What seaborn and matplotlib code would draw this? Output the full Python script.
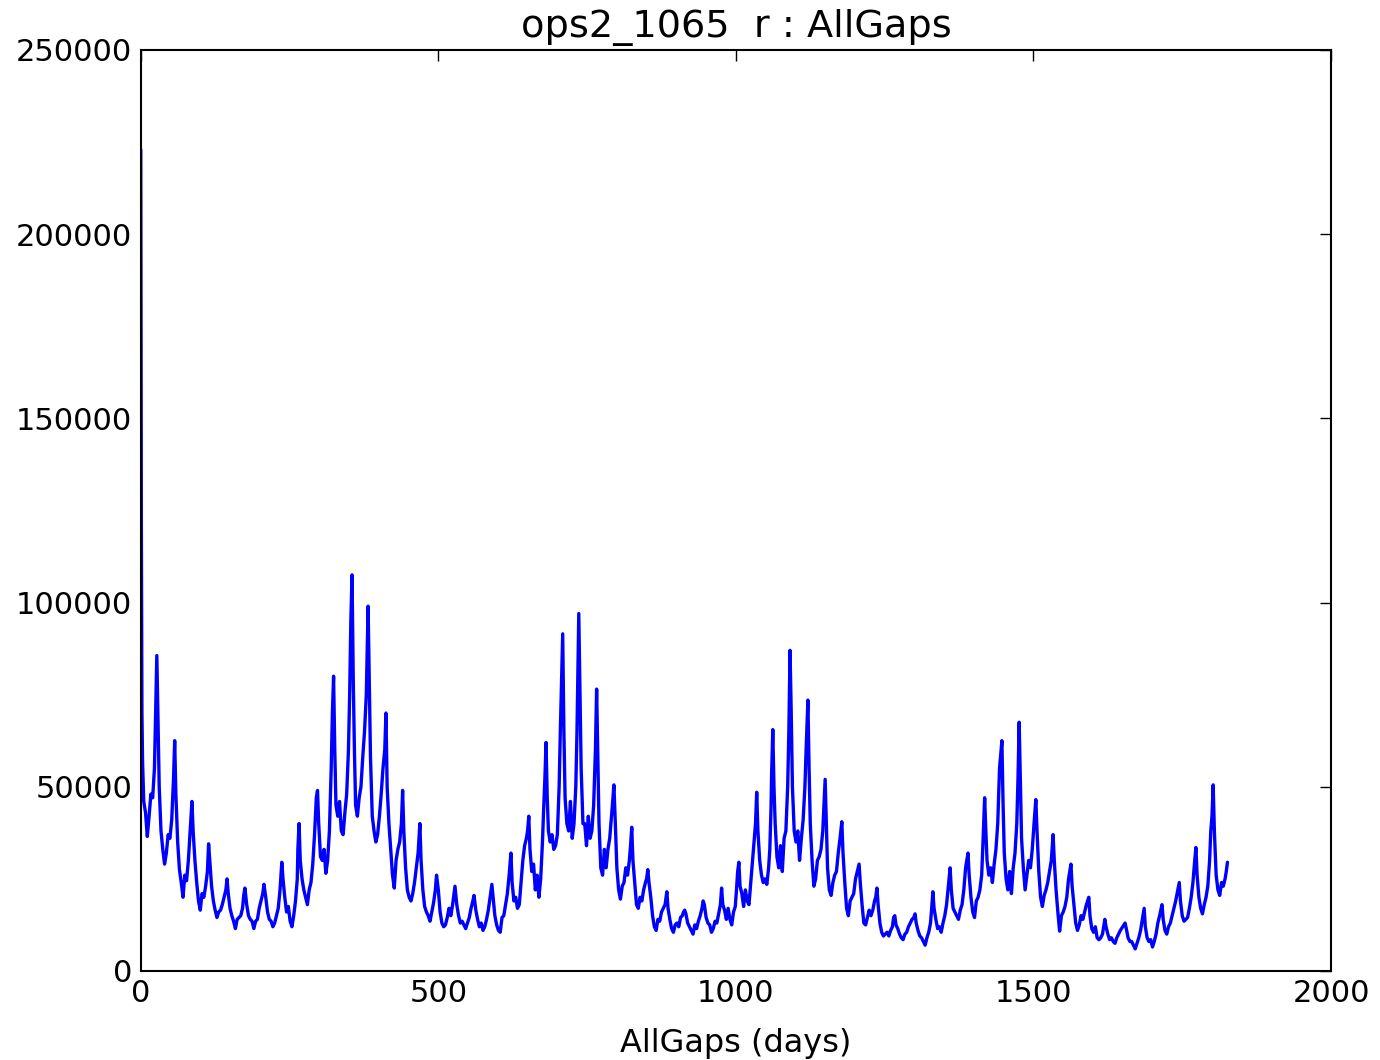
import numpy as np
import pandas as pd
import matplotlib
matplotlib.use("Agg")
import matplotlib.pyplot as plt
import seaborn as sns

days = [0,1,2,3,5,8,11,14,17,20,23,25,27,29,31,34,37,40,43,46,49,52,55,57,59,62,65,68,71,74,77,80,83,86,88,91,94,97,100,103,106,109,112,114,116,119,122,125,128,131,134,137,140,143,145,147,150,153,156,159,162,165,168,171,173,175,178,181,184,187,190,193,196,199,202,205,207,210,213,216,219,222,225,228,231,234,237,239,242,245,248,251,254,257,260,263,264,266,268,271,274,277,280,283,286,289,292,295,297,299,302,305,308,311,314,317,320,322,324,326,328,331,334,337,340,343,346,349,351,353,355,357,359,361,364,367,370,373,376,379,382,384,386,389,392,395,398,401,404,407,410,412,414,417,420,423,426,429,432,435,438,440,442,445,448,451,454,457,460,463,466,469,471,474,477,480,483,486,489,492,495,497,500,503,506,509,512,515,518,521,524,528,531,534,537,540,543,546,549,552,555,558,560,563,566,569,572,575,578,581,584,587,590,592,595,598,601,604,607,610,613,616,619,622,624,627,630,633,636,639,642,645,648,650,652,654,657,660,663,666,669,672,675,677,679,681,683,685,688,691,694,697,700,703,705,707,709,711,713,716,719,722,725,728,731,733,736,738,740,743,746,749,752,755,758,761,764,766,768,770,773,776,779,782,785,788,791,793,795,797,800,803,806,809,812,815,818,821,823,825,827,830,833,836,839,842,845,848,850,852,854,857,860,863,866,869,872,875,878,881,884,886,889,892,895,898,901,904,907,910,912,914,916,919,922,925,928,931,934,937,940,943,945,947,950,953,956,959,962,965,968,971,974,976,978,981,984,987,990,993,996,999,1001,1003,1005,1007,1010,1013,1016,1019,1022,1025,1028,1031,1033,1035,1037,1040,1043,1046,1049,1052,1055,1057,1059,1060,1062,1064,1066,1069,1072,1075,1078,1081,1084,1087,1089,1091,1093,1095,1098,1101,1104,1107,1110,1113,1116,1118,1121,1123,1125,1128,1131,1134,1137,1140,1143,1146,1148,1150,1152,1154,1157,1160,1163,1166,1169,1172,1175,1178,1180,1183,1186,1189,1192,1195,1198,1201,1204,1207,1209,1212,1215,1218,1221,1224,1227,1230,1233,1235,1237,1239,1242,1245,1248,1251,1254,1257,1260,1263,1265,1267,1269,1272,1275,1278,1281,1284,1287,1290,1293,1296,1299,1301,1303,1306,1309,1312,1315,1318,1321,1324,1327,1329,1331,1333,1336,1339,1342,1345,1348,1351,1354,1357,1360,1362,1365,1368,1371,1374,1377,1380,1383,1386,1388,1390,1392,1395,1398,1401,1404,1407,1410,1413,1415,1418,1420,1422,1425,1428,1431,1434,1437,1440,1443,1447,1449,1451,1454,1457,1460,1463,1466,1469,1472,1474,1476,1478,1480,1483,1486,1489,1492,1495,1498,1501,1504,1506,1509,1512,1515,1518,1521,1524,1527,1530,1533,1535,1538,1541,1544,1547,1550,1553,1556,1559,1563,1565,1568,1571,1574,1577,1580,1583,1586,1589,1593,1595,1598,1601,1604,1607,1610,1613,1616,1618,1620,1622,1625,1628,1631,1634,1637,1640,1643,1646,1650,1654,1656,1659,1662,1665,1668,1671,1674,1677,1680,1683,1686,1688,1691,1694,1697,1700,1703,1706,1709,1712,1716,1718,1721,1724,1727,1730,1733,1736,1739,1742,1745,1747,1750,1753,1756,1759,1762,1765,1768,1771,1773,1775,1778,1781,1784,1787,1790,1793,1796,1798,1800,1802,1804,1807,1810,1813,1816,1819,1822,1824,1826]

gaps = [223000,120000,70000,57000,46000,43000,36500,42000,48000,47000,55000,70000,85600,68000,50000,38000,33000,29000,32000,37000,36000,41000,52000,62500,48000,35000,27500,24000,20000,26000,24500,30000,38000,46000,38000,30000,24000,19000,16500,21000,20000,23000,27000,34500,30000,23000,19000,16500,14500,16000,16500,18000,20000,22000,25000,21000,17000,15000,13500,11500,14000,14500,15000,17000,20500,22500,18000,15000,14000,13500,11500,13500,14000,17000,19000,21000,23500,20000,16000,14000,13500,12000,13000,15000,17000,22000,29500,25000,20000,16000,17500,13500,12000,15000,19000,25000,33000,40000,30000,25000,22000,20000,18000,22000,24000,29000,37000,47000,49000,40000,31000,30000,33000,26500,30000,38000,55000,70000,80000,60000,45000,42000,46000,38000,37000,43000,48000,60000,75000,95000,107500,80000,60000,45000,42000,47000,50000,58000,65000,75000,99000,78000,58000,42000,38000,35000,37000,42000,48000,55000,60000,70000,50000,40000,33000,26000,22500,30000,33000,35000,40000,49000,38000,28000,22000,20000,19000,21000,24000,28000,32000,40000,30000,22000,17500,16000,15000,13500,16000,18500,22000,26000,22000,16000,13000,12000,12500,14500,17000,15000,18000,23000,18000,15000,13000,13500,12500,11500,13000,14500,17000,19000,20500,16500,14000,12000,13000,11000,12000,14000,16500,20000,23500,20000,15000,12500,11000,10500,14500,15000,18000,21000,26000,32000,24000,19000,20000,17000,18000,24000,30000,34000,36000,38000,42000,33000,27000,29000,22000,26000,20000,25000,35000,44000,52000,62000,47000,38000,35000,37000,33000,34000,37000,50000,65000,78000,91500,65000,47000,40000,38000,46000,36000,40000,50000,65000,97000,75000,55000,40000,40000,34000,42000,36000,38000,45000,60000,76500,58000,40000,28000,26000,33000,28000,33000,36000,42000,46000,50500,42000,28000,22000,19500,23000,24000,28000,26000,30000,34000,39000,30000,24000,18000,17000,20000,19000,22000,24000,25000,27500,24000,20000,15000,12000,11000,14000,13500,16000,17000,18000,21500,17000,14000,11500,10500,12500,13000,12000,14500,15000,16000,16500,15500,13000,12000,11000,10000,12500,11500,13500,15000,17000,19000,18000,14500,13000,12500,10500,11500,13500,13000,15500,18000,22500,18000,16500,14000,17000,14000,12500,16000,17500,22000,27000,29500,23000,21000,17500,22000,19000,18000,24000,30000,36000,40000,48500,38000,30000,26000,24000,25000,23500,28000,33000,44000,53000,65500,50000,40000,31000,28000,34000,27000,36000,38000,50000,65000,87000,70000,50000,38000,35000,38000,30000,36000,41000,50000,60000,73500,55000,40000,30000,23000,25000,30000,31000,33000,38000,45000,52000,40000,28000,22000,20500,24000,26000,27000,32000,36000,40500,32000,24000,17000,15000,19000,20000,21000,25000,27000,29000,24000,18000,13000,12500,14500,16500,15000,16500,19000,20000,22500,18000,13000,10500,9500,10000,10500,9500,11000,12000,14500,15000,12500,11500,10000,9000,8500,10000,10500,12000,13000,14000,14500,15500,13000,11000,9500,9000,8000,7000,9000,10500,13000,17000,21500,17000,14000,11500,12000,10500,13000,15000,18000,23000,28000,22000,17000,16000,15000,14000,16500,18000,22000,28000,30000,32000,26000,20000,16000,14500,19000,20000,22000,26000,34000,47000,38000,30000,26000,28000,24000,29000,33000,40000,55000,62500,45000,32000,25000,22000,27000,21000,28000,32000,40000,52000,67500,52000,36000,28000,22000,26000,30000,28000,33000,40000,46500,38000,27000,20000,17500,20500,22000,24000,27000,30000,37000,30000,22000,16000,10800,15000,16000,17500,20000,25000,29000,23000,18000,13000,11000,12500,15000,14000,16000,18000,20000,15000,11500,10500,12000,9000,8500,9000,10000,12000,14000,12000,10000,8500,9000,8000,7500,9000,10000,11000,12000,13000,11500,9000,8000,8000,7000,6000,7500,9000,11000,14000,17000,12000,9000,8000,8500,6500,8000,10000,13000,15000,18000,14000,11000,10000,12000,13000,15000,17000,19000,21500,24000,19000,15000,13500,14000,14500,17000,20000,24000,30000,33500,26000,20000,17000,15500,18000,20000,23000,30000,38000,42000,50500,38000,26000,22000,20500,24000,23000,25000,27000,29500]

title_text = "ops2_1065  r : AllGaps"
xlabel_text = "AllGaps (days)"
xticks = [0, 500, 1000, 1500, 2000]
yticks = [0, 50000, 100000, 150000, 200000, 250000]

df = pd.DataFrame({"day": days, "gap": gaps})

sns.set_style("white")
plt.rcParams["font.family"] = ["DejaVu Sans"]
plt.rcParams["text.color"] = "black"
plt.rcParams["axes.labelcolor"] = "black"

fig = plt.figure(figsize=(13.8, 10.6), dpi=100)
ax = fig.add_axes([0.102, 0.084, 0.8625, 0.869])
sns.lineplot(data=df, x="day", y="gap", color="#0000ff", linewidth=2.4, ax=ax, estimator=None)

ax.set_xlim(0, 2000)
ax.set_ylim(0, 250000)
ax.set_xticks(xticks)
ax.set_yticks(yticks)
ax.set_xticklabels([str(t) for t in xticks], fontsize=22)
ax.set_yticklabels([str(t) for t in yticks], fontsize=22)
ax.tick_params(direction="in", length=8, width=1, top=True, right=True,
               colors="black", labelcolor="black", pad=6)
for s in ax.spines.values():
    s.set_visible(True)
    s.set_color("black")
    s.set_linewidth(1.5)
ax.set_title(title_text, fontsize=27.5, pad=9, color="black")
ax.set_xlabel(xlabel_text, fontsize=23, labelpad=14, color="black")
ax.set_ylabel("")

fig.savefig("out.png", dpi=100, facecolor="white")
